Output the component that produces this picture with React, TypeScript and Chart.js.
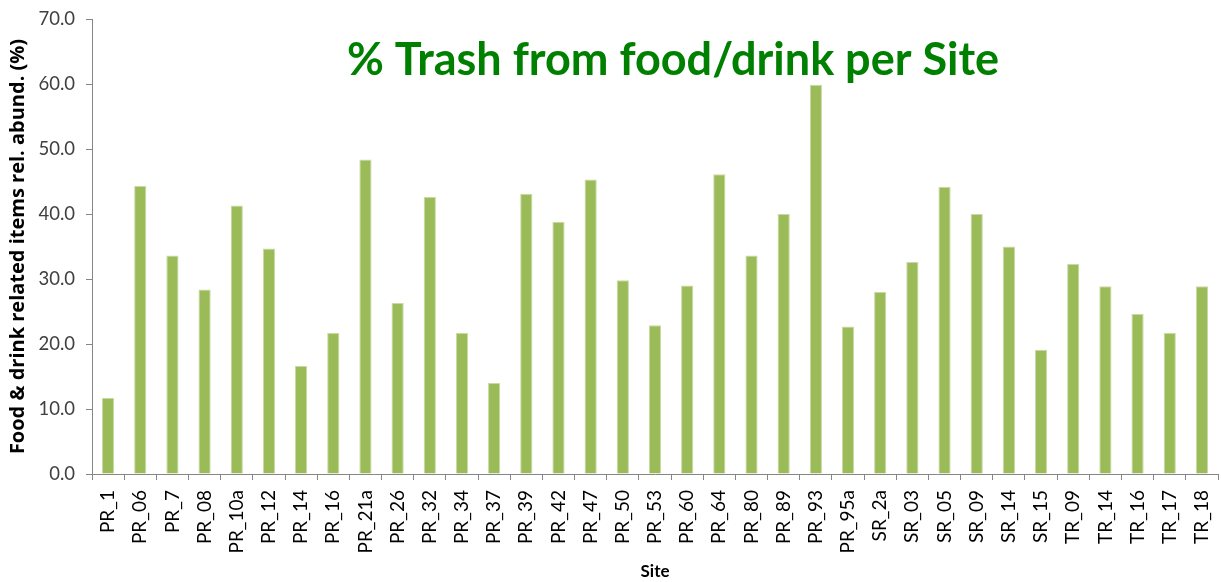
import React, { useEffect, useRef } from "react";
import { Chart, registerables } from "chart.js";

Chart.register(...registerables);

const sites = [
  "PR_1", "PR_06", "PR_7", "PR_08", "PR_10a", "PR_12", "PR_14", "PR_16", "PR_21a", "PR_26",
  "PR_32", "PR_34", "PR_37", "PR_39", "PR_42", "PR_47", "PR_50", "PR_53", "PR_60", "PR_64",
  "PR_80", "PR_89", "PR_93", "PR_95a", "SR_2a", "SR_03", "SR_05", "SR_09", "SR_14", "SR_15",
  "TR_09", "TR_14", "TR_16", "TR_17", "TR_18",
];
const foodDrinkPct = [
  11.7, 44.3, 33.6, 28.4, 41.3, 34.7, 16.6, 21.7, 48.4, 26.3,
  42.6, 21.7, 14.0, 43.1, 38.8, 45.3, 29.8, 22.9, 29.0, 46.1,
  33.6, 40.0, 59.9, 22.7, 28.0, 32.6, 44.2, 40.0, 35.0, 19.1,
  32.3, 28.9, 24.6, 21.7, 28.9,
];
const titleText = "% Trash from food/drink per Site";
const yTitle = "Food & drink related items rel. abund. (%)";
const xTitle = "Site";

const titlePlugin = {
  id: "overlayTitle",
  afterDraw(chart: any) {
    const ctx = chart.ctx;
    ctx.save();
    ctx.font = "bold 45px Lato";
    ctx.fillStyle = "#008000";
    ctx.textAlign = "center";
    ctx.textBaseline = "alphabetic";
    ctx.fillText(titleText, 673, 75);
    ctx.restore();
  },
};

export default function App() {
  const ref = useRef<HTMLCanvasElement | null>(null);
  useEffect(() => {
    document.body.style.margin = "0";
    const chart = new Chart(ref.current as HTMLCanvasElement, {
      type: "bar",
      data: {
        labels: sites,
        datasets: [
          {
            data: foodDrinkPct,
            backgroundColor: "#9BBB59",
            borderColor: "#C9DBA5",
            borderWidth: 1,
            barPercentage: 0.38,
            categoryPercentage: 1,
          },
        ],
      },
      options: {
        animation: false,
        responsive: false,
        layout: { padding: { top: 19, right: 3, left: 0, bottom: 0 } },
        plugins: { legend: { display: false }, tooltip: { enabled: false }, title: { display: false } },
        scales: {
          x: {
            grid: { display: true, drawOnChartArea: false, drawTicks: true, tickLength: 6, color: "#868686", offset: true },
            border: { display: true, color: "#868686", width: 1 },
            ticks: {
              minRotation: 90,
              maxRotation: 90,
              autoSkip: false,
              color: "#000000",
              font: { family: "Lato", size: 19 },
              padding: 10,
            },
            title: {
              display: true,
              text: xTitle,
              color: "#000000",
              font: { family: "Lato", size: 17, weight: "bold" },
              padding: { top: 0, bottom: 0 },
            },
            afterFit: (s: any) => { s.height = 108; s.paddingLeft = 0; s.paddingRight = 0; },
          },
          y: {
            min: 0,
            max: 70,
            grid: { display: true, drawOnChartArea: false, drawTicks: true, tickLength: 6, color: "#868686" },
            border: { display: true, color: "#868686", width: 1 },
            ticks: {
              stepSize: 10,
              color: "#404040",
              font: { family: "Lato", size: 18.5 },
              padding: 11,
              callback: (v: any) => Number(v).toFixed(1),
            },
            title: {
              display: true,
              text: yTitle,
              color: "#000000",
              font: { family: "Open Sans", size: 20, weight: "bold" },
              padding: { top: 6, bottom: 4 },
            },
            afterFit: (s: any) => { s.width = 92; s.paddingTop = 0; s.paddingBottom = 0; },
          },
        },
      },
      plugins: [titlePlugin],
    });
    return () => chart.destroy();
  }, []);
  return (
    <div style={{ position: "absolute", left: 0, top: 0, width: 1221, height: 582, background: "#fff" }}>
      <canvas ref={ref} width={1221} height={582} style={{ width: 1221, height: 582 }} />
    </div>
  );
}
